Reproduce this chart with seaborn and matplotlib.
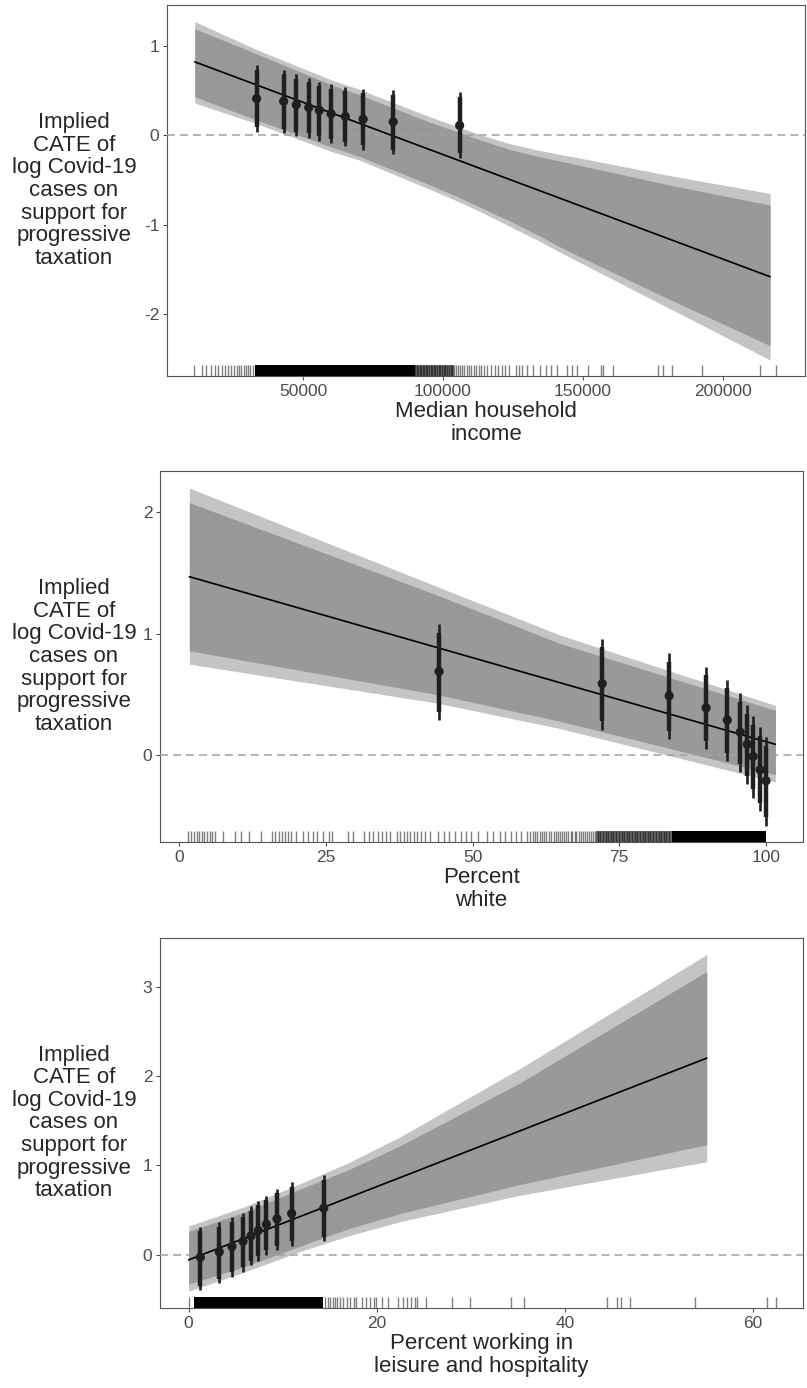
import numpy as np
import pandas as pd
import matplotlib
matplotlib.use("Agg")
import matplotlib.pyplot as plt
import seaborn as sns

# ---------------- panel 1 : median household income ----------------
inc_pt_x = [33430, 43090, 47600, 52040, 55830, 60020, 65140, 71470, 82210, 105940]
inc_pt_y = [0.41, 0.38, 0.34, 0.31, 0.28, 0.24, 0.21, 0.18, 0.15, 0.11]
inc_ci95_lo = [0.04, 0.02, -0.01, -0.03, -0.06, -0.09, -0.12, -0.16, -0.21, -0.25]
inc_ci95_hi = [0.78, 0.73, 0.68, 0.64, 0.60, 0.57, 0.54, 0.52, 0.50, 0.48]
inc_ci90_lo = [0.09, 0.07, 0.04, 0.02, -0.01, -0.04, -0.07, -0.11, -0.16, -0.20]
inc_ci90_hi = [0.73, 0.68, 0.63, 0.59, 0.55, 0.52, 0.49, 0.47, 0.45, 0.43]

inc_line_x = [11346, 216800]
inc_line_y = [0.82, -1.58]

inc_band_x = [11346, 33430, 60000, 70400, 95000, 106200, 115000, 124000, 133000, 142000, 153150, 180000, 216800]
inc_band_out_hi = [1.27, 0.957, 0.62, 0.51, 0.21, 0.084, -0.01, -0.095, -0.16, -0.215, -0.28, -0.445, -0.65]
inc_band_in_hi = [1.19, 0.91, 0.565, 0.45, 0.15, 0.026, -0.07, -0.16, -0.23, -0.29, -0.365, -0.55, -0.78]
inc_band_out_lo = [0.36, 0.13, -0.18, -0.28, -0.60, -0.75, -0.88, -1.02, -1.16, -1.31, -1.49, -1.92, -2.51]
inc_band_in_lo = [0.43, 0.17, -0.13, -0.24, -0.55, -0.70, -0.83, -0.96, -1.10, -1.25, -1.42, -1.82, -2.35]

inc_rug = [11200, 14000, 15500, 17000, 18500, 19800, 21000, 22200, 23300, 24400,
           25400, 26300, 27200, 28000, 28800, 29600, 30400, 31200, 32000,
           90000, 90600, 91100, 91700, 92200, 92800, 93300, 93900, 94400, 95000,
           95600, 96100, 96700, 97300, 97800, 98400, 99000, 99600, 100200, 100800,
           101400, 102000, 102700, 103300, 104000, 104700, 105400, 106100, 106900,
           107600, 108400, 109200, 110000, 110900, 111800, 112700, 113600,
           114500, 115800, 117000, 118500, 119600, 121000, 122000,
           123670, 125950, 127240, 128100, 129890, 132250, 134640, 136780, 138460,
           140600, 144390, 145960, 147750, 151890, 156320, 157250, 160600, 176890,
           178460, 181890, 192390, 213200, 218800]
inc_rug_spans = [(32900, 90000, 1.0), (90000, 104000, 0.55)]

# ---------------- panel 2 : percent white ----------------
wh_pt_x = [44.3, 72.1, 83.5, 89.8, 93.4, 95.6, 96.8, 97.8, 99.0, 100.0]
wh_pt_y = [0.69, 0.59, 0.49, 0.39, 0.29, 0.19, 0.09, -0.01, -0.12, -0.21]
wh_ci95_lo = [0.29, 0.21, 0.13, 0.05, -0.05, -0.14, -0.24, -0.35, -0.46, -0.58]
wh_ci95_hi = [1.08, 0.96, 0.84, 0.73, 0.62, 0.51, 0.41, 0.32, 0.23, 0.15]
wh_ci90_lo = [0.36, 0.28, 0.20, 0.12, 0.02, -0.07, -0.17, -0.28, -0.39, -0.51]
wh_ci90_hi = [1.01, 0.89, 0.77, 0.66, 0.55, 0.44, 0.34, 0.25, 0.16, 0.08]

wh_line_x = [1.76, 101.6]
wh_line_y = [1.47, 0.09]

wh_band_x = [1.76, 43.9, 64.9, 101.6]
wh_band_out_lo = [0.75, 0.43, 0.22, -0.22]
wh_band_in_lo = [0.86, 0.50, 0.28, -0.16]
wh_band_in_hi = [2.08, 1.32, 0.92, 0.37]
wh_band_out_hi = [2.20, 1.39, 0.99, 0.41]

wh_rug = [1.6, 2.1, 2.6, 3.0, 3.4, 3.9, 4.3, 4.8, 5.2, 5.6, 6.1, 7.5, 9.5, 10.5, 11.9,
          14.0, 15.8, 16.4, 17.0, 17.5, 18.1, 18.6, 19.0, 20.0, 21.1, 21.9, 22.8, 23.5,
          24.6, 25.6, 26.1, 28.8, 29.6, 31.5, 32.3, 33.1, 33.9, 34.6, 35.3, 36.0, 37.1,
          37.7, 38.3, 38.8, 39.4, 40.0, 40.6, 41.3, 41.9, 42.7, 44.1, 45.2, 46.0, 47.1,
          48.0, 48.9, 49.7, 51.0, 52.4, 53.5, 54.6, 55.6, 56.5, 57.4, 58.3, 59.3,
          59.8, 60.3, 60.7, 61.0, 61.5, 61.9, 62.2, 62.6, 63.1, 63.4, 63.8, 64.2, 64.5,
          64.9, 65.3, 65.6, 66.0, 66.3, 66.7, 67.0, 67.4, 67.7, 68.1, 68.4, 68.8, 69.1,
          69.5, 69.8, 70.2, 70.5, 70.9, 71.3, 71.8, 72.2, 72.7, 73.1, 73.6, 74.0, 74.5,
          74.9, 75.4, 75.8, 76.3, 76.7, 77.2, 77.6, 78.1, 78.5, 79.0, 79.4, 79.9, 80.3,
          80.8, 81.2, 81.7, 82.1, 82.6, 83.0, 83.5]
wh_rug_spans = [(71.0, 84.0, 0.6), (84.0, 100.0, 1.0)]

# ---------------- panel 3 : leisure and hospitality ----------------
lh_pt_x = [1.25, 3.26, 4.61, 5.78, 6.63, 7.41, 8.26, 9.39, 10.95, 14.36]
lh_pt_y = [-0.03, 0.03, 0.09, 0.15, 0.21, 0.27, 0.34, 0.40, 0.46, 0.52]
lh_ci95_lo = [-0.40, -0.32, -0.25, -0.19, -0.12, -0.07, 0.00, 0.05, 0.10, 0.15]
lh_ci95_hi = [0.31, 0.36, 0.42, 0.47, 0.54, 0.60, 0.66, 0.74, 0.81, 0.89]
lh_ci90_lo = [-0.35, -0.27, -0.20, -0.14, -0.07, -0.02, 0.05, 0.10, 0.15, 0.20]
lh_ci90_hi = [0.26, 0.31, 0.37, 0.42, 0.49, 0.55, 0.61, 0.69, 0.76, 0.84]

lh_line_x = [0.0, 55.06]
lh_line_y = [-0.06, 2.20]

lh_band_x = [0.0, 5.8, 12.0, 17.0, 22.5, 35.0, 55.06]
lh_band_out_lo = [-0.41, -0.20, 0.04, 0.21, 0.37, 0.66, 1.04]
lh_band_in_lo = [-0.33, -0.14, 0.10, 0.29, 0.46, 0.78, 1.23]
lh_band_in_hi = [0.26, 0.47, 0.74, 0.95, 1.22, 1.91, 3.17]
lh_band_out_hi = [0.32, 0.53, 0.80, 1.03, 1.32, 2.07, 3.36]

lh_rug = [0.0, 14.5, 14.8, 15.0, 15.3, 15.6, 15.8, 16.1, 16.4, 16.8, 17.1,
          17.6, 17.8, 18.4, 18.9, 19.3, 19.7, 19.9, 20.6, 21.2, 22.3, 22.8, 23.2,
          23.6, 24.1, 24.3, 25.2, 28.0, 29.9, 34.3, 35.6, 44.5, 45.5, 45.9, 46.9,
          53.8, 61.5, 62.4]
lh_rug_spans = [(0.6, 14.3, 1.0)]

ylab = "Implied\nCATE of\nlog Covid-19\ncases on\nsupport for\nprogressive\ntaxation"

W, H = 807, 1388
sns.set_style("white")
plt.rcParams["font.family"] = ["Liberation Sans", "DejaVu Sans"]

fig = plt.figure(figsize=(W / 100, H / 100), dpi=100)


def px_axes(left, top, right, bottom):
    return fig.add_axes([left / W, 1 - bottom / H, (right - left) / W, (bottom - top) / H])


def draw_panel(ax, band, line, pts, rug, spans, xlim, ylim, xticks, yticks, xlab):
    bx, olo, ilo, ihi, ohi = band
    ax.fill_between(bx, olo, ohi, color="#c4c4c4", lw=0, zorder=1)
    ax.fill_between(bx, ilo, ihi, color="#999999", lw=0, zorder=2)
    ax.axhline(0, color="#a0a0a0", lw=1.1, dashes=(5.2, 3.3), zorder=3)
    sns.lineplot(x=line[0], y=line[1], color="black", lw=1.2, ax=ax, zorder=4)

    px, py, lo95, hi95, lo90, hi90 = pts
    ax.vlines(px, lo95, hi95, color="#1f1f1f", lw=1.9, zorder=5)
    ax.vlines(px, lo90, hi90, color="#1f1f1f", lw=3.2, zorder=5)
    sns.scatterplot(x=px, y=py, color="#1f1f1f", s=44, edgecolor="none", ax=ax, zorder=6)

    for lo, hi, a in spans:
        ax.fill_between([lo, hi], 0, 0.03, transform=ax.get_xaxis_transform(),
                        color="black", alpha=a, lw=0)
    sns.rugplot(x=rug, height=0.03, color="black", alpha=0.5, lw=0.8, ax=ax)

    ax.set_xlim(xlim)
    ax.set_ylim(ylim)
    ax.set_xticks(xticks)
    ax.set_yticks(yticks)
    ax.set_xticklabels([str(t) for t in xticks])
    ax.set_yticklabels([str(t) for t in yticks])
    ax.tick_params(axis="both", length=3, width=0.8, color="#4d4d4d",
                   labelsize=12.5, labelcolor="#4d4d4d", pad=2.5,
                   bottom=True, left=True)
    ax.set_xlabel(xlab, fontsize=16, linespacing=1.1, labelpad=2)
    ax.set_ylabel("")
    for s in ax.spines.values():
        s.set_color("#555555")
        s.set_linewidth(0.8)


ax1 = px_axes(167, 5, 805, 376)
draw_panel(ax1,
           (inc_band_x, inc_band_out_lo, inc_band_in_lo, inc_band_in_hi, inc_band_out_hi),
           (inc_line_x, inc_line_y),
           (inc_pt_x, inc_pt_y, inc_ci95_lo, inc_ci95_hi, inc_ci90_lo, inc_ci90_hi),
           inc_rug, inc_rug_spans,
           (1434, 229270), (-2.689, 1.455),
           [50000, 100000, 150000, 200000], [-2, -1, 0, 1],
           "Median household\nincome")

ax2 = px_axes(160, 471, 803, 842)
draw_panel(ax2,
           (wh_band_x, wh_band_out_lo, wh_band_in_lo, wh_band_in_hi, wh_band_out_hi),
           (wh_line_x, wh_line_y),
           (wh_pt_x, wh_pt_y, wh_ci95_lo, wh_ci95_hi, wh_ci90_lo, wh_ci90_hi),
           wh_rug, wh_rug_spans,
           (-3.24, 106.3), (-0.714, 2.34),
           [0, 25, 50, 75, 100], [0, 1, 2],
           "Percent\nwhite")

ax3 = px_axes(160, 938, 803, 1308)
draw_panel(ax3,
           (lh_band_x, lh_band_out_lo, lh_band_in_lo, lh_band_in_hi, lh_band_out_hi),
           (lh_line_x, lh_line_y),
           (lh_pt_x, lh_pt_y, lh_ci95_lo, lh_ci95_hi, lh_ci90_lo, lh_ci90_hi),
           lh_rug, lh_rug_spans,
           (-3.04, 65.29), (-0.598, 3.545),
           [0, 20, 40, 60], [0, 1, 2, 3],
           "Percent working in\nleisure and hospitality")

# horizontal y labels, centred on each panel
for top, bottom in [(5, 376), (471, 842), (938, 1308)]:
    fig.text(74 / W, 1 - (top + bottom) / 2 / H, ylab, ha="center", va="center",
             multialignment="center", fontsize=16, linespacing=1.1)

fig.savefig("out.png", dpi=100)
